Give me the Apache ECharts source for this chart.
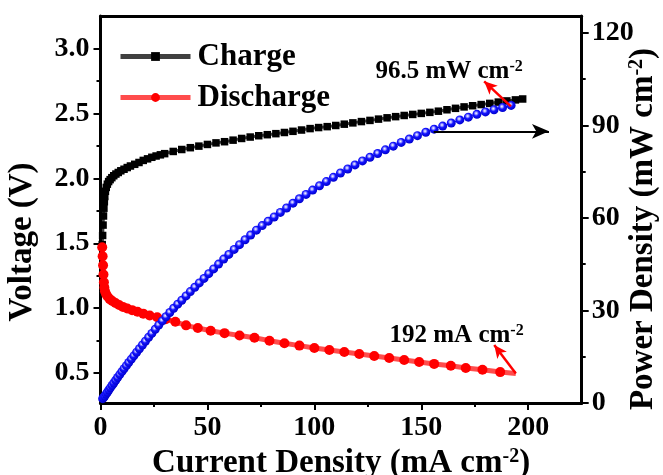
<!DOCTYPE html>
<html><head><meta charset="utf-8">
<script src="https://cdn.jsdelivr.net/npm/echarts@6/dist/echarts.min.js"></script>
<style>html,body{margin:0;padding:0;background:#fff}#c{width:663px;height:475px}</style>
</head><body><div id="c"></div>
<script>
// ---- data ----
const chargeCurrent = [0.8,1.0,1.2,1.4,1.6,1.8,2.0,2.3,2.7,3.2,3.8,4.5,5.3,6.2,7.2,8.3,9.5,11,12.5,14,16,18,20,22,24,26,28,30,34,38,42,46,50,54,58,62,66,70,74,78,82,86,90,94,98,102,106,110,114,118,122,126,130,134,138,142,146,150,154,158,162,166,170,174,178,182,186,190,194,197.4];
const chargeVoltage = [1.49,1.56,1.64,1.71,1.77,1.82,1.86,1.90,1.93,1.955,1.975,1.99,2.005,2.02,2.033,2.045,2.058,2.07,2.083,2.095,2.108,2.122,2.138,2.15,2.162,2.172,2.181,2.19,2.207,2.222,2.236,2.248,2.261,2.273,2.282,2.294,2.307,2.318,2.328,2.336,2.344,2.353,2.362,2.372,2.383,2.391,2.398,2.407,2.417,2.427,2.437,2.446,2.456,2.466,2.475,2.484,2.492,2.5,2.508,2.517,2.528,2.539,2.55,2.559,2.568,2.577,2.587,2.596,2.604,2.611];

const dischargeCurrent = [0.8,1.0,1.2,1.4,1.6,1.8,2.1,2.6,3.3,4.3,5.5,7,8.7,10.5,12.5,14.8,17.3,20,23,26.5,30.5,35,40,45.5,51.5,58,65,72,79,86,93,100,107,114,121,128,135,142,149,156,163.8,170.8,178.6,186.9];
const dischargeVoltage = [1.47,1.40,1.33,1.26,1.20,1.16,1.13,1.11,1.09,1.07,1.055,1.04,1.025,1.01,0.997,0.985,0.972,0.958,0.944,0.93,0.915,0.895,0.868,0.847,0.826,0.808,0.79,0.772,0.75,0.73,0.712,0.694,0.678,0.663,0.648,0.632,0.616,0.601,0.586,0.571,0.557,0.539,0.526,0.508];

const powerCurrent = [1.0,1.5,2.0,2.6,3.2,3.9,4.6,5.4,6.2,7.1,8,9,10,11,12.1,13.2,14.4,15.6,16.9,18.2,19.6,21,22.5,24,25.6,27.2,28.9,30.6,32.4,34.2,36.1,38,40,42,44.1,46.2,48.4,50.6,52.9,55.2,57.6,60,62.5,65,67.6,70.2,72.9,75.6,78.4,81.2,84.1,87,90,93,96.1,99.2,102.4,105.6,108.9,112.2,115.6,119,122.5,126,129.6,133.2,136.9,140.6,144.4,148.2,152.1,156,160,164,168,172,176,180,184,188,192];
const powerDensity = [1.40,1.77,2.26,2.89,3.50,4.21,4.92,5.70,6.50,7.38,8.26,9.22,10.16,11.10,12.11,13.12,14.21,15.30,16.46,17.60,18.82,20.03,21.31,22.56,23.91,25.24,26.62,27.97,29.35,30.71,32.06,33.33,34.72,36.12,37.53,38.95,40.41,41.95,43.48,45.04,46.66,48.18,49.81,51.35,52.93,54.48,56.06,57.53,58.96,60.33,61.81,63.25,64.8,66.22,67.65,69.04,70.45,71.81,73.18,74.6,75.9,77.2,78.5,79.7,80.9,82.1,83.3,84.5,85.6,86.7,87.8,88.8,89.8,90.8,91.8,92.7,93.6,94.4,95.1,95.8,96.5];

const xTicks = [0,50,100,150,200];
const xMinorTicks = [25,75,125,175];
const vTicks = [0.5,1.0,1.5,2.0,2.5,3.0];
const vMinorTicks = [0.75,1.25,1.75,2.25,2.75];
const pTicks = [0,30,60,90,120];
const pMinorTicks = [15,45,75,105];

const peakPowerValue = 96.5;   // mW cm-2
const peakCurrentValue = 192;  // mA cm-2
// annotation anchors in data units
const peakPowerLabelAt = [163, 107.5];
const peakCurrentLabelAt = [166.5, 0.793];
const peakPowerArrow = [[191.9, 96.2], [179.4, 104.3]];
const axisHintArrow = [[155.8, 88.1], [209.7, 88.1]];
const currentTail = [[186.9, 0.508], [194.2, 0.497]];
const currentArrow = [[194.2, 0.497], [184.1, 0.716]];

// ---- chart ----
const FONT = "'Liberation Serif','Times New Roman',serif";
const pairs = (xs, ys) => xs.map((x, i) => [x, ys[i]]);
const axisLine = {show: true, onZero: false, lineStyle: {color: '#000', width: 3}};
const tickFont = {fontFamily: FONT, fontWeight: 'bold', fontSize: 28, color: '#000'};
const rich = (size, supSize) => ({
  b: {fontFamily: FONT, fontWeight: 'bold', fontSize: size, color: '#000', lineHeight: size},
  s: {fontFamily: FONT, fontWeight: 'bold', fontSize: supSize, color: '#000', verticalAlign: 'top', lineHeight: supSize}
});
const blueBall = {type: 'radial', x: 0.42, y: 0.38, r: 0.62, colorStops: [
  {offset: 0, color: '#ffffff'}, {offset: 0.2, color: '#a8a8ff'},
  {offset: 0.48, color: '#1414ff'}, {offset: 1, color: '#0000cc'}]};

const chart = echarts.init(document.getElementById('c'), null, {renderer: 'canvas'});
chart.setOption({
  animation: false,
  backgroundColor: '#fff',
  grid: {left: 100.5, right: 81.3, top: 16, bottom: 72, containLabel: false, outerBoundsMode: 'none'},
  legend: {
    data: ['Charge', 'Discharge'], orient: 'vertical', left: 113, top: 36,
    itemWidth: 70, itemHeight: 11, itemGap: 10, selectedMode: false,
    lineStyle: {width: 5},
    textStyle: {fontFamily: FONT, fontWeight: 'bold', fontSize: 31, color: '#000', lineHeight: 30, padding: [0, 0, 0, 2]}
  },
  xAxis: [
    {type: 'value', min: 0, max: 225, position: 'bottom', axisLine,
     axisTick: {show: true, inside: false, length: 7, lineStyle: {color: '#000', width: 2}, customValues: xTicks},
     axisLabel: Object.assign({customValues: xTicks, margin: 11}, tickFont),
     splitLine: {show: false},
     name: '{b|Current Density (mA cm}{s|-2}{b|)}', nameLocation: 'middle', nameGap: 40,
     nameTextStyle: {rich: rich(33, 20)}},
    {type: 'value', min: 0, max: 225, position: 'bottom', axisLine: {show: false, onZero: false},
     axisTick: {show: true, length: 4, lineStyle: {color: '#000', width: 2}, customValues: xMinorTicks},
     axisLabel: {show: false}, splitLine: {show: false}},
    {type: 'value', min: 0, max: 225, position: 'top', axisLine,
     axisTick: {show: false}, axisLabel: {show: false}, splitLine: {show: false}}
  ],
  yAxis: [
    {type: 'value', min: 0.27, max: 3.25, position: 'left', axisLine,
     axisTick: {show: true, length: 7, lineStyle: {color: '#000', width: 2}, customValues: vTicks},
     axisLabel: Object.assign({customValues: vTicks, margin: 11, formatter: v => v.toFixed(1)}, tickFont),
     splitLine: {show: false}},
    {type: 'value', min: 0, max: 125.5, position: 'right', axisLine,
     axisTick: {show: true, length: 7, lineStyle: {color: '#000', width: 2}, customValues: pTicks},
     axisLabel: Object.assign({customValues: pTicks, margin: 10}, tickFont),
     splitLine: {show: false}},
    {type: 'value', min: 0.27, max: 3.25, position: 'left', axisLine: {show: false, onZero: false},
     axisTick: {show: true, length: 4, lineStyle: {color: '#000', width: 2}, customValues: vMinorTicks},
     axisLabel: {show: false}, splitLine: {show: false}},
    {type: 'value', min: 0, max: 125.5, position: 'right', axisLine: {show: false, onZero: false},
     axisTick: {show: true, length: 4, lineStyle: {color: '#000', width: 2}, customValues: pMinorTicks},
     axisLabel: {show: false}, splitLine: {show: false}}
  ],
  graphic: [
    {type: 'text', x: 22, y: 242, rotation: Math.PI / 2, silent: true,
     style: {text: 'Voltage (V)', fontFamily: FONT, fontWeight: 'bold', fontSize: 33, fill: '#000', align: 'center', verticalAlign: 'middle'}},
    {type: 'text', x: 643, y: 229, rotation: Math.PI / 2, silent: true,
     style: {text: '{b|Power Density (mW cm}{s|-2}{b|)}', rich: rich(33, 20), align: 'center', verticalAlign: 'middle'}}
  ],
  series: [
    {type: 'line', name: 'Charge', xAxisIndex: 0, yAxisIndex: 0, data: pairs(chargeCurrent, chargeVoltage),
     symbol: 'rect', symbolSize: 7.5, showSymbol: true, silent: true,
     itemStyle: {color: '#000'}, lineStyle: {color: '#000', width: 3, opacity: 0.75}, z: 2},
    {type: 'line', name: 'Discharge', xAxisIndex: 0, yAxisIndex: 0, data: pairs(dischargeCurrent, dischargeVoltage),
     symbol: 'circle', symbolSize: 10, showSymbol: true, silent: true,
     itemStyle: {color: '#ff0000'}, lineStyle: {color: '#ff0000', width: 5, opacity: 0.7}, z: 3,
     markPoint: {silent: true, symbol: 'circle', symbolSize: 0,
       label: {show: true, position: 'inside', formatter: '{b|' + peakCurrentValue + ' mA cm}{s|-2}', rich: rich(25, 16)},
       data: [{coord: peakCurrentLabelAt}]},
     markLine: {silent: true, symbol: ['none', 'arrow'], symbolSize: [9, 13], label: {show: false},
       data: [
         [{coord: currentTail[0], symbol: 'none', lineStyle: {type: 'solid', color: '#ff0000', width: 5, opacity: 0.7}},
          {coord: currentTail[1], symbol: 'none', lineStyle: {type: 'solid', color: '#ff0000', width: 5, opacity: 0.7}}],
         [{coord: currentArrow[0], symbol: 'none', lineStyle: {type: 'solid', color: '#ff0000', width: 2.5}},
          {coord: currentArrow[1], symbol: 'arrow', lineStyle: {type: 'solid', color: '#ff0000', width: 2.5}}]
       ]}},
    {type: 'line', name: 'Power Density', xAxisIndex: 0, yAxisIndex: 1, data: pairs(powerCurrent, powerDensity),
     symbol: 'circle', symbolSize: 9, showSymbol: true, silent: true,
     itemStyle: {color: blueBall}, lineStyle: {color: '#0000ff', width: 1}, z: 4,
     markPoint: {silent: true, symbol: 'circle', symbolSize: 0,
       label: {show: true, position: 'inside', formatter: '{b|' + peakPowerValue + ' mW cm}{s|-2}', rich: rich(25, 16)},
       data: [{coord: peakPowerLabelAt}]},
     markLine: {silent: true, symbol: ['none', 'arrow'], symbolSize: [10, 15], label: {show: false},
       data: [
         [{coord: peakPowerArrow[0], symbol: 'none', lineStyle: {type: 'solid', color: '#ff0000', width: 2.5}},
          {coord: peakPowerArrow[1], symbol: 'arrow', symbolSize: [9, 13], lineStyle: {type: 'solid', color: '#ff0000', width: 2.5}}],
         [{coord: axisHintArrow[0], symbol: 'none', lineStyle: {type: 'solid', color: '#000', width: 2}},
          {coord: axisHintArrow[1], symbol: 'arrow', symbolSize: [11, 17], lineStyle: {type: 'solid', color: '#000', width: 2}}]
       ]}}
  ]
});
</script></body></html>
